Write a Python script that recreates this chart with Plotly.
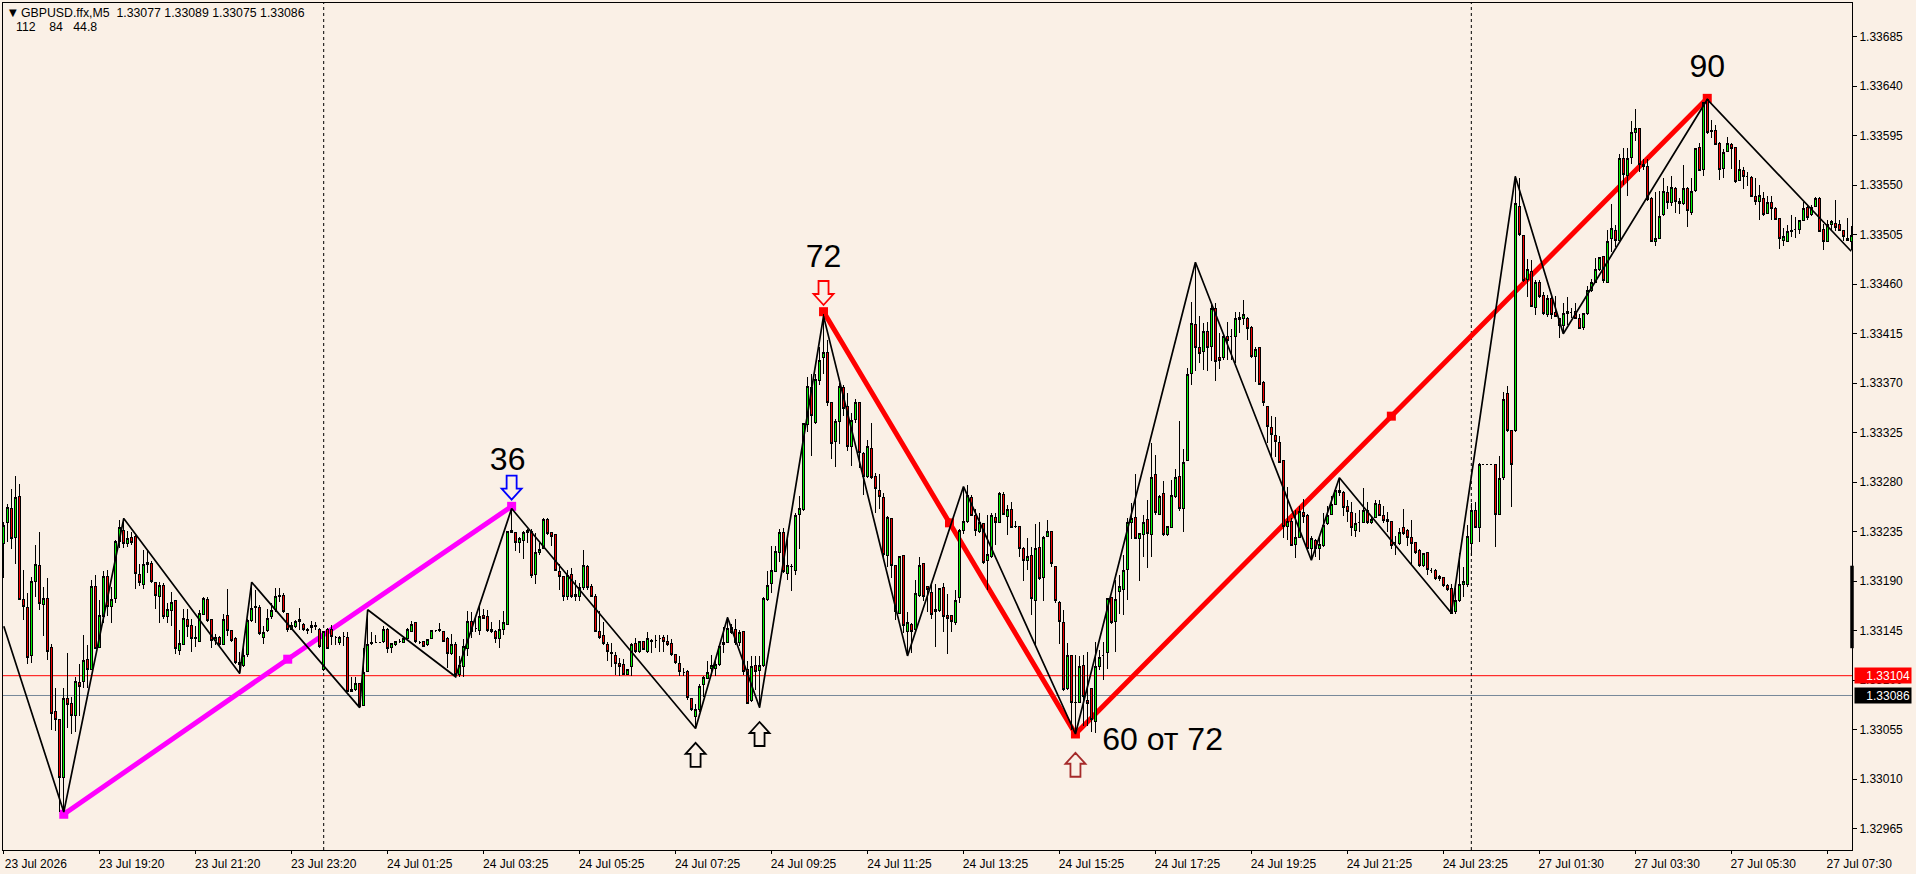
import plotly.graph_objects as go

# Prices are written in points: 33224 means 1.33224
opens_pts = [
33224,33243,33256,33230,33267,33173,33166,33122,33190,33204,
33169,33174,33130,33071,33064,33011,33083,33079,33068,33098,
33099,33119,33110,33185,33130,33158,33194,33167,33174,33226,
33236,33224,33230,33231,33196,33187,33205,33206,33189,33176,
33186,33158,33163,33172,33127,33132,33155,33150,33139,33135,
33160,33173,33155,33136,33139,33132,33159,33145,33138,33114,
33113,33123,33154,33166,33166,33139,33145,33158,33164,33177,
33177,33161,33146,33149,33155,33151,33146,33148,33150,33146,
33110,33146,33146,33139,33134,33140,33139,33091,33091,33097,
33077,33108,33133,33134,33134,33135,33146,33130,33132,33135,
33134,33138,33144,33152,33134,33135,33132,33138,33145,33146,
33144,33138,33124,33132,33105,33112,33129,33153,33147,33145,
33159,33158,33146,33144,33138,33146,33151,33236,33234,33225,
33227,33234,33235,33196,33216,33220,33246,33234,33232,33199,
33194,33176,33196,33178,33176,33184,33203,33185,33176,33144,
33141,33132,33125,33122,33115,33114,33105,33112,33133,33126,
33135,33126,33136,33136,33138,33139,33135,33133,33123,33115,
33107,33108,33083,33067,33073,33096,33101,33111,33111,33114,
33132,33134,33148,33146,33134,33144,33110,33081,33113,33109,
33113,33173,33188,33199,33216,33234,33197,33203,33200,33251,
33255,33332,33366,33334,33372,33393,33398,33352,33317,33335,
33366,33349,33312,33337,33352,33306,33285,33311,33285,33272,
33266,33213,33247,33204,33161,33213,33144,33151,33146,33177,
33206,33185,33180,33162,33163,33184,33159,33159,33152,33175,
33236,33244,33266,33250,33235,33242,33209,33212,33248,33243,
33269,33249,33255,33240,33240,33220,33209,33213,33172,33221,
33193,33231,33235,33203,33171,33152,33092,33122,33080,33080,
33113,33081,33092,33062,33112,33122,33125,33175,33153,33181,
33182,33201,33243,33248,33229,33232,33246,33232,33287,33251,
33270,33232,33239,33267,33285,33256,33300,33379,33423,33402,
33399,33417,33403,33438,33393,33393,33412,33412,33412,33430,
33429,33429,33421,33394,33402,33371,33349,33330,33322,33316,
33300,33240,33244,33223,33230,33252,33250,33220,33227,33220,
33222,33242,33251,33260,33272,33271,33258,33252,33236,33243,
33243,33254,33243,33248,33260,33250,33246,33244,33225,33224,
33239,33236,33230,33225,33218,33204,33216,33200,33200,33192,
33193,33186,33183,33162,33172,33187,33187,33224,33254,33239,
33296,33296,33296,33296,33251,33284,33361,33327,33327,33531,
33504,33464,33472,33439,33462,33450,33432,33447,33434,33429,
33422,33435,33434,33435,33429,33421,33433,33454,33462,33473,
33485,33462,33502,33509,33500,33574,33559,33575,33598,33602,
33569,33567,33538,33499,33502,33523,33543,33534,33547,33535,
33533,33547,33525,33545,33584,33564,33628,33600,33600,33588,
33565,33581,33587,33584,33554,33563,33558,33557,33540,33535,
33538,33524,33534,33529,33520,33500,33499,33508,33510,33510,
33518,33530,33523,33531,33538,33510,33499,33514,33515,33514,
33509,33502,33499]
highs_pts = [
33244,33260,33274,33286,33278,33200,33179,33194,33223,33235,
33185,33193,33133,33093,33065,33093,33125,33085,33103,33115,
33141,33132,33191,33196,33173,33199,33200,33185,33227,33246,
33247,33236,33235,33233,33206,33218,33217,33208,33189,33189,
33188,33170,33180,33173,33146,33165,33165,33156,33149,33164,
33176,33176,33155,33142,33140,33160,33183,33146,33139,33126,
33133,33156,33189,33182,33168,33149,33165,33170,33184,33184,
33179,33161,33153,33155,33166,33152,33147,33154,33153,33147,
33144,33147,33150,33140,33140,33144,33144,33103,33103,33097,
33129,33164,33144,33141,33135,33149,33147,33134,33136,33137,
33140,33147,33154,33152,33136,33136,33137,33145,33146,33152,
33145,33139,33142,33135,33122,33137,33163,33162,33158,33167,
33165,33164,33153,33146,33155,33163,33235,33256,33235,33230,
33236,33237,33237,33234,33225,33247,33247,33234,33233,33206,
33195,33200,33202,33191,33188,33218,33205,33187,33178,33163,
33153,33135,33134,33126,33120,33119,33110,33134,33138,33135,
33135,33144,33137,33141,33141,33141,33141,33137,33124,33122,
33111,33109,33083,33078,33096,33104,33117,33123,33120,33132,
33148,33157,33151,33156,33146,33145,33117,33122,33122,33122,
33176,33199,33222,33222,33237,33238,33229,33206,33252,33267,
33334,33376,33378,33378,33403,33433,33409,33352,33337,33370,
33368,33361,33343,33356,33352,33307,33318,33334,33288,33287,
33270,33249,33247,33204,33213,33213,33162,33152,33191,33212,
33206,33185,33188,33187,33184,33188,33178,33159,33182,33237,
33276,33277,33268,33256,33252,33243,33250,33252,33252,33271,
33271,33259,33262,33245,33240,33221,33229,33221,33242,33244,
33231,33246,33236,33204,33172,33164,33134,33123,33123,33122,
33123,33126,33093,33135,33127,33135,33175,33176,33191,33196,
33214,33247,33261,33287,33234,33250,33264,33316,33305,33268,
33281,33240,33282,33292,33336,33310,33384,33444,33480,33431,
33425,33426,33441,33443,33416,33414,33426,33419,33435,33435,
33446,33430,33422,33403,33402,33372,33349,33340,33339,33322,
33300,33276,33247,33255,33258,33265,33251,33231,33228,33231,
33252,33258,33267,33275,33284,33272,33264,33262,33252,33255,
33275,33262,33249,33264,33264,33258,33253,33244,33231,33238,
33256,33237,33246,33225,33219,33216,33216,33202,33201,33196,
33194,33187,33187,33184,33216,33203,33241,33261,33262,33297,
33296,33296,33296,33296,33304,33362,33367,33327,33558,33557,
33504,33483,33482,33464,33464,33453,33450,33451,33449,33429,
33443,33448,33438,33443,33433,33434,33458,33465,33484,33485,
33486,33509,33533,33514,33578,33584,33584,33608,33619,33602,
33574,33574,33539,33544,33545,33557,33549,33558,33548,33538,
33568,33548,33557,33584,33588,33626,33628,33609,33605,33589,
33583,33594,33588,33584,33573,33567,33562,33558,33557,33550,
33544,33540,33540,33530,33520,33511,33514,33523,33521,33518,
33535,33532,33532,33539,33539,33515,33518,33518,33537,33518,
33509,33520,33513]
lows_pts = [
33193,33226,33219,33206,33173,33155,33115,33116,33176,33164,
33140,33118,33055,33054,32980,32980,33056,33051,33053,33067,
33093,33093,33109,33129,33129,33152,33158,33152,33170,33220,
33220,33221,33223,33183,33186,33183,33197,33188,33165,33152,
33156,33152,33149,33124,33123,33132,33139,33126,33130,33135,
33159,33153,33129,33132,33131,33132,33140,33135,33115,33106,
33112,33121,33153,33152,33141,33133,33144,33156,33162,33171,
33161,33144,33146,33147,33146,33145,33142,33143,33146,33129,
33108,33128,33132,33132,33132,33131,33089,33090,33090,33075,
33076,33107,33132,33134,33134,33134,33125,33125,33131,33134,
33134,33137,33144,33134,33133,33130,33131,33137,33144,33144,
33135,33111,33123,33103,33103,33103,33122,33138,33144,33141,
33156,33144,33143,33134,33129,33141,33150,33234,33217,33216,
33210,33225,33193,33187,33214,33219,33232,33222,33199,33182,
33172,33173,33175,33172,33172,33182,33182,33176,33144,33137,
33132,33117,33112,33105,33104,33105,33105,33104,33125,33125,
33128,33125,33125,33129,33126,33126,33131,33122,33115,33104,
33104,33082,33072,33056,33071,33085,33101,33104,33104,33113,
33125,33134,33142,33132,33131,33105,33079,33080,33091,33075,
33112,33172,33179,33198,33207,33197,33191,33181,33196,33219,
33254,33326,33304,33333,33368,33378,33349,33301,33294,33315,
33340,33308,33295,33334,33293,33268,33284,33283,33252,33256,
33212,33203,33193,33155,33160,33143,33122,33125,33144,33176,
33172,33162,33156,33130,33162,33144,33124,33144,33150,33170,
33233,33243,33249,33231,33234,33206,33182,33211,33223,33243,
33250,33232,33238,33238,33212,33190,33200,33159,33132,33191,
33172,33230,33203,33170,33133,33090,33091,33055,33051,33079,
33058,33058,33053,33052,33109,33100,33110,33151,33126,33160,
33159,33173,33228,33228,33190,33212,33202,33212,33250,33250,
33231,33231,33238,33266,33254,33235,33300,33368,33381,33388,
33382,33381,33390,33372,33383,33391,33391,33391,33388,33416,
33423,33409,33393,33371,33369,33349,33316,33303,33303,33297,
33229,33227,33222,33211,33229,33243,33219,33209,33212,33209,
33221,33241,33250,33259,33267,33249,33244,33231,33230,33235,
33243,33242,33242,33247,33249,33243,33235,33219,33214,33223,
33232,33222,33205,33215,33203,33203,33196,33197,33191,33190,
33185,33181,33160,33160,33171,33176,33185,33213,33238,33226,
33296,33296,33296,33221,33250,33282,33326,33257,33326,33504,
33462,33448,33439,33432,33447,33432,33430,33428,33430,33411,
33415,33423,33429,33428,33419,33418,33432,33453,33461,33472,
33461,33461,33489,33494,33499,33550,33540,33569,33590,33562,
33564,33536,33498,33495,33502,33522,33528,33531,33525,33524,
33532,33512,33523,33544,33563,33558,33597,33593,33587,33555,
33557,33580,33565,33552,33554,33547,33549,33540,33532,33518,
33522,33524,33518,33518,33492,33495,33498,33503,33502,33506,
33518,33518,33522,33530,33508,33491,33498,33509,33508,33508,
33499,33499,33491]
closes_pts = [
33241,33257,33229,33266,33173,33167,33121,33190,33205,33170,
33174,33126,33070,33064,33011,33083,33078,33068,33099,33094,
33118,33110,33185,33129,33159,33194,33167,33173,33226,33239,
33224,33229,33225,33197,33189,33205,33207,33190,33177,33186,
33158,33164,33171,33129,33133,33156,33149,33138,33138,33161,
33174,33154,33136,33139,33132,33155,33145,33136,33116,33116,
33122,33154,33165,33167,33142,33143,33156,33163,33176,33176,
33162,33146,33150,33153,33153,33146,33145,33150,33149,33131,
33144,33129,33140,33139,33139,33140,33090,33090,33097,33076,
33107,33132,33134,33134,33134,33146,33129,33133,33135,33135,
33138,33146,33151,33135,33134,33131,33137,33145,33145,33145,
33135,33124,33132,33105,33113,33131,33153,33144,33147,33158,
33156,33145,33144,33138,33146,33152,33235,33234,33225,33229,
33234,33236,33195,33216,33219,33246,33233,33231,33200,33194,
33176,33195,33176,33176,33184,33204,33184,33176,33144,33139,
33133,33126,33124,33115,33112,33105,33110,33132,33126,33135,
33128,33138,33135,33136,33138,33135,33132,33123,33116,33108,
33107,33084,33073,33073,33094,33102,33107,33113,33114,33131,
33134,33147,33143,33134,33143,33108,33079,33112,33108,33113,
33174,33186,33200,33217,33234,33199,33204,33203,33250,33256,
33333,33367,33341,33373,33391,33398,33352,33315,33335,33367,
33347,33312,33336,33352,33307,33285,33312,33284,33274,33267,
33214,33248,33204,33162,33212,33150,33152,33144,33179,33204,
33176,33182,33160,33164,33183,33158,33156,33153,33172,33236,
33244,33268,33250,33236,33243,33207,33214,33250,33243,33270,
33251,33255,33239,33240,33220,33209,33212,33174,33220,33192,
33230,33235,33206,33172,33153,33091,33122,33080,33080,33112,
33085,33079,33064,33112,33121,33122,33174,33152,33173,33185,
33200,33243,33247,33229,33233,33243,33233,33284,33252,33267,
33232,33240,33268,33284,33256,33298,33378,33424,33402,33397,
33417,33402,33438,33390,33391,33412,33409,33412,33429,33428,
33432,33420,33394,33401,33369,33352,33331,33323,33317,33298,
33240,33244,33222,33230,33253,33249,33220,33229,33220,33223,
33241,33250,33260,33272,33271,33257,33253,33239,33242,33243,
33254,33243,33246,33261,33250,33245,33244,33222,33225,33234,
33233,33230,33224,33216,33204,33215,33201,33200,33192,33194,
33186,33182,33161,33172,33187,33190,33231,33254,33239,33296,
33296,33296,33296,33251,33283,33355,33327,33296,33533,33505,
33463,33473,33440,33462,33449,33433,33447,33432,33431,33422,
33433,33433,33434,33429,33420,33433,33454,33462,33473,33484,
33463,33499,33511,33500,33574,33560,33574,33598,33602,33569,
33567,33537,33499,33502,33522,33544,33534,33548,33535,33533,
33547,33527,33544,33583,33563,33625,33598,33599,33587,33564,
33580,33588,33583,33553,33564,33558,33558,33540,33535,33541,
33523,33534,33529,33519,33502,33503,33508,33509,33510,33518,
33529,33521,33530,33538,33508,33499,33514,33517,33512,33509,
33503,33500,33504]

zigzag_bars = [0,15,30,59,62,89,91,113,127,173,181,189,205,226,240,268,298,327,334,362,378,390,426,462]
zigzag_pts = [33149,32980,33247,33106,33189,33075,33164,33103,33256,33056,33157,33075,33431,33122,33276,33051,33480,33209,33284,33161,33558,33415,33628,33490]

magenta_bars = [15,71,127]
magenta_pts = [32978,33119,33258]
red_bars = [205,236.5,268,347,426]
red_pts = [33435,33243,33051,33340,33629]

arrow_bars = [127,205,173,189,268]
arrow_pts = [33275,33452,33032,33051,33023]
arrow_dirs = ["down","down","up","up","up"]
arrow_colors = ["#0000ff","#ff0000","#000000","#000000","#a52a2a"]

label_bars = [126,205,426]
label_pts = [33298,33483,33656]
label_texts = ["36","72","90"]
note_bar = [274.7]
note_pt = [33044]
note_text = ["60 от 72"]

bid_price = 1.33086
alert_price = 1.33104
separator_bars = [80,367]

y_ticks = [1.32965,1.33010,1.33055,1.33100,1.33145,1.33190,1.33235,1.33280,1.33325,1.33370,
           1.33415,1.33460,1.33505,1.33550,1.33595,1.33640,1.33685]
x_tick_bars = list(range(0,457,24))
x_tick_labels = ["23 Jul 2026","23 Jul 19:20","23 Jul 21:20","23 Jul 23:20","24 Jul 01:25","24 Jul 03:25",
                 "24 Jul 05:25","24 Jul 07:25","24 Jul 09:25","24 Jul 11:25","24 Jul 13:25","24 Jul 15:25",
                 "24 Jul 17:25","24 Jul 19:25","24 Jul 21:25","24 Jul 23:25","27 Jul 01:30","27 Jul 03:30",
                 "27 Jul 05:30","27 Jul 07:30"]

def price(v):
    return [1 + p/1e5 for p in v]

n = min(len(opens_pts),len(highs_pts),len(lows_pts),len(closes_pts))
xs = list(range(n))
X_RANGE = [-0.2, 462.2]
Y_RANGE = [1.329455, 1.337157]
BG = "#faf0e6"
FONT = "Liberation Sans"

fig = go.Figure()
fig.add_trace(go.Scatter(x=magenta_bars,y=price(magenta_pts),mode="lines+markers",
    line=dict(color="#ff00ff",width=5),marker=dict(symbol="square",size=9,color="#ff00ff"),hoverinfo="skip"))
fig.add_trace(go.Scatter(x=red_bars,y=price(red_pts),mode="lines+markers",
    line=dict(color="#ff0000",width=5),marker=dict(symbol="square",size=9,color="#ff0000"),hoverinfo="skip"))
fig.add_trace(go.Candlestick(x=xs,open=price(opens_pts[:n]),high=price(highs_pts[:n]),low=price(lows_pts[:n]),close=price(closes_pts[:n]),
    xaxis="x2",yaxis="y2",whiskerwidth=0,
    increasing=dict(line=dict(color="#000000",width=1),fillcolor="#00f000"),
    decreasing=dict(line=dict(color="#000000",width=1),fillcolor="#f00000")))
fig.add_trace(go.Scatter(x=zigzag_bars,y=price(zigzag_pts),mode="lines",xaxis="x2",yaxis="y2",
    line=dict(color="#000000",width=1.7),hoverinfo="skip"))
fig.add_trace(go.Scatter(x=label_bars,y=price(label_pts),mode="text",text=label_texts,xaxis="x2",yaxis="y2",
    textposition="middle center",textfont=dict(family=FONT,size=32,color="#000000"),hoverinfo="skip"))
fig.add_trace(go.Scatter(x=note_bar,y=price(note_pt),mode="text",text=note_text,xaxis="x2",yaxis="y2",
    textposition="middle right",textfont=dict(family=FONT,size=32,color="#000000"),hoverinfo="skip"))

shapes = [
    dict(type="line",xref="paper",x0=0,x1=1,yref="y",y0=alert_price,y1=alert_price,line=dict(color="#ff0000",width=1),layer="below"),
    dict(type="line",xref="paper",x0=0,x1=1,yref="y",y0=bid_price,y1=bid_price,line=dict(color="#778899",width=1),layer="below"),
    dict(type="line",xref="paper",x0=1,x1=1,yref="y",y0=1.33129,y1=1.33204,line=dict(color="#000000",width=3.5),layer="above"),
]
for b in separator_bars:
    shapes.append(dict(type="line",xref="x",x0=b,x1=b,yref="paper",y0=0,y1=1,
                       line=dict(color="#000000",width=1,dash="3px,3px"),layer="below"))

ARROW_DOWN = "M-5,12 L5,12 L5,-1 L10,-1 L0,-12 L-10,-1 L-5,-1 Z"
ARROW_UP = "M-5,-12 L5,-12 L5,1 L10,1 L0,12 L-10,1 L-5,1 Z"
for b, p, d, c in zip(arrow_bars, price(arrow_pts), arrow_dirs, arrow_colors):
    shapes.append(dict(type="path",xref="x",yref="y",xsizemode="pixel",ysizemode="pixel",xanchor=b,yanchor=p,
                       path=ARROW_DOWN if d=="down" else ARROW_UP,
                       line=dict(color=c,width=1.8),fillcolor=BG,layer="above"))

annotations = [
    dict(xref="paper",yref="paper",x=0,y=1,xshift=4,yshift=-2,xanchor="left",yanchor="top",showarrow=False,
         text="▼",font=dict(family="DejaVu Sans",size=10,color="#000000")),
    dict(xref="paper",yref="paper",x=0,y=1,xshift=16,yshift=-1,xanchor="left",yanchor="top",showarrow=False,
         text="GBPUSD.ffx,M5  1.33077 1.33089 1.33075 1.33086",font=dict(family=FONT,size=12.3,color="#000000")),
    dict(xref="paper",yref="paper",x=0,y=1,xshift=11,yshift=-15,xanchor="left",yanchor="top",showarrow=False,
         text="112    84   44.8",font=dict(family=FONT,size=12.3,color="#000000")),
    dict(xref="paper",yref="y",x=1,y=alert_price,xshift=2,xanchor="left",yanchor="middle",showarrow=False,
         text="1.33104",font=dict(family=FONT,size=12,color="#ffffff"),bgcolor="#ff0000",width=54,height=13,borderpad=1,align="right"),
    dict(xref="paper",yref="y",x=1,y=bid_price,xshift=2,xanchor="left",yanchor="middle",showarrow=False,
         text="1.33086",font=dict(family=FONT,size=12,color="#ffffff"),bgcolor="#000000",width=54,height=13,borderpad=1,align="right"),
]

fig.update_layout(
    width=1916,height=874,autosize=False,
    margin=dict(l=2.5,r=64,t=3,b=24,pad=0),
    paper_bgcolor=BG,plot_bgcolor=BG,showlegend=False,boxgap=0.25,
    shapes=shapes,annotations=annotations,
    hovermode=False,
    xaxis=dict(range=X_RANGE,tickmode="array",tickvals=x_tick_bars,ticktext=x_tick_labels,
               ticks="outside",ticklen=3,tickcolor="#000000",tickwidth=1,
               showgrid=False,zeroline=False,showline=True,linecolor="#000000",linewidth=1,mirror=True,
               ticklabelshift=32,ticklabelstandoff=0,tickangle=0,
               tickfont=dict(family=FONT,size=12,color="#000000"),rangeslider=dict(visible=False)),
    yaxis=dict(range=Y_RANGE,side="right",tickmode="array",tickvals=y_ticks,ticktext=[f"{t:.5f}" for t in y_ticks],
               ticks="outside",ticklen=4,tickcolor="#000000",tickwidth=1,
               showgrid=False,zeroline=False,showline=True,linecolor="#000000",linewidth=1,mirror=True,
               tickfont=dict(family=FONT,size=12,color="#000000")),
    xaxis2=dict(range=X_RANGE,overlaying="x",visible=False,rangeslider=dict(visible=False)),
    yaxis2=dict(range=Y_RANGE,overlaying="y",visible=False,side="right"),
)

fig.write_html("out.html",
    post_script="document.body.style.margin='0';document.body.style.overflow='hidden';"
                "document.querySelectorAll('.trace.boxes path').forEach(function(p){p.style.shapeRendering='crispEdges';});",
    config=dict(displayModeBar=False))
